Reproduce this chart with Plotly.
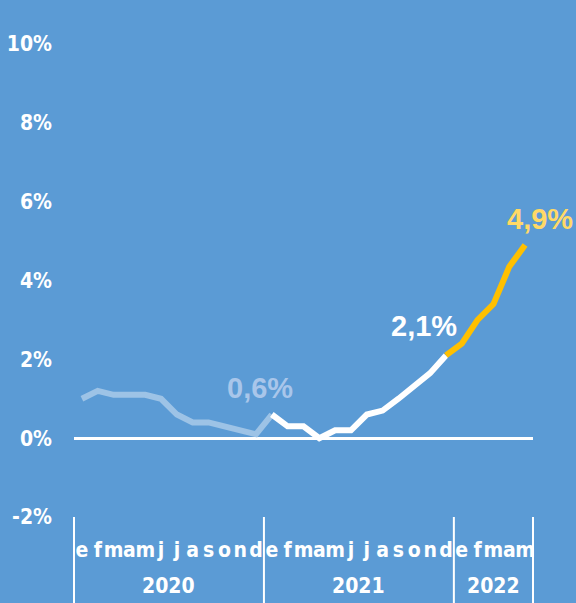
import plotly.graph_objects as go

# Monthly values (%), Jan 2020 - May 2022
months = ["e", "f", "m", "a", "m", "j", "j", "a", "s", "o", "n", "d",
          "e", "f", "m", "a", "m", "j", "j", "a", "s", "o", "n", "d",
          "e", "f", "m", "a", "m"]
years = ["2020", "2021", "2022"]
year_months = [12, 12, 5]

vals_2020 = [1.0, 1.2, 1.1, 1.1, 1.1, 1.0, 0.6, 0.4, 0.4, 0.3, 0.2, 0.1, 0.6]
vals_2021 = [0.6, 0.3, 0.3, 0.0, 0.2, 0.2, 0.6, 0.7, 1.0, 1.35, 1.65, 2.1]
vals_2022 = [2.1, 2.4, 3.0, 3.4, 4.35, 4.9]

BG = "#5B9BD5"
C2020 = "#9DC3E6"
C2021 = "#FFFFFF"
C2022 = "#FFC000"
NARROW = "DejaVu Sans Condensed, Liberation Sans Narrow, sans-serif"
WIDE = "Liberation Sans, Arial, sans-serif"

n = len(months)
x_2020 = list(range(0, 13))
x_2021 = list(range(12, 24))
x_2022 = list(range(23, 29))

fig = go.Figure()
for xs, ys, col in [(x_2020, vals_2020, C2020),
                    (x_2021, vals_2021, C2021),
                    (x_2022, vals_2022, C2022)]:
    fig.add_trace(go.Scatter(x=xs, y=ys, mode="lines",
                             line=dict(color=col, width=6),
                             hoverinfo="skip", showlegend=False))

# Value callouts (offsets in pixels from the labelled point)
callouts = [(x_2021[0], vals_2021[0], "0,6%", "#A9C6EA", -12, 27),
            (x_2021[-1], vals_2021[-1], "2,1%", "#FFFFFF", -22, 29),
            (x_2022[-1], vals_2022[-1], "4,9%", "#FFD966", 15, 26)]
for cx, cy, txt, col, dx, dy in callouts:
    fig.add_annotation(x=cx, y=cy, xshift=dx, yshift=dy,
                       text=f"<b>{txt}</b>",
                       showarrow=False, xref="x", yref="y",
                       font=dict(family=WIDE, size=29, color=col))

# Year separators and labels below the axis
shapes = []
bounds = [0]
for cnt in year_months:
    bounds.append(bounds[-1] + cnt)
for b in bounds:
    shapes.append(dict(type="line", xref="paper", yref="paper",
                       x0=b / n, x1=b / n, y0=0, y1=-0.2,
                       line=dict(color="white", width=2)))
for i, yr in enumerate(years):
    mid = (bounds[i] + bounds[i + 1]) / 2 / n
    fig.add_annotation(x=mid, y=-0.146, xref="paper", yref="paper",
                       yanchor="middle", xanchor="center",
                       text=f"<b>{yr}</b>", showarrow=False,
                       font=dict(family=NARROW, size=21, color="white"))

fig.update_layout(
    width=576, height=603,
    margin=dict(l=74, r=43, t=44, b=86),
    paper_bgcolor=BG, plot_bgcolor=BG,
    shapes=shapes,
    xaxis=dict(range=[-0.5, n - 0.5], tickmode="array",
               tickvals=list(range(n)),
               ticktext=[f"<b>{m}</b>" for m in months],
               tickangle=0, automargin=False,
               showgrid=False, zeroline=False, showline=False, ticks="",
               ticklabelstandoff=18,
               tickfont=dict(family=NARROW, size=21, color="white"),
               fixedrange=True),
    yaxis=dict(range=[-2, 10], tickvals=[-2, 0, 2, 4, 6, 8, 10],
               ticktext=[f"<b>{v}%</b>" for v in [-2, 0, 2, 4, 6, 8, 10]],
               automargin=False,
               showgrid=False, zeroline=True, zerolinecolor="white",
               zerolinewidth=2.5, showline=False, ticks="",
               ticklabelstandoff=21,
               tickfont=dict(family=NARROW, size=21, color="white"),
               fixedrange=True),
)

fig.write_html("out.html")
